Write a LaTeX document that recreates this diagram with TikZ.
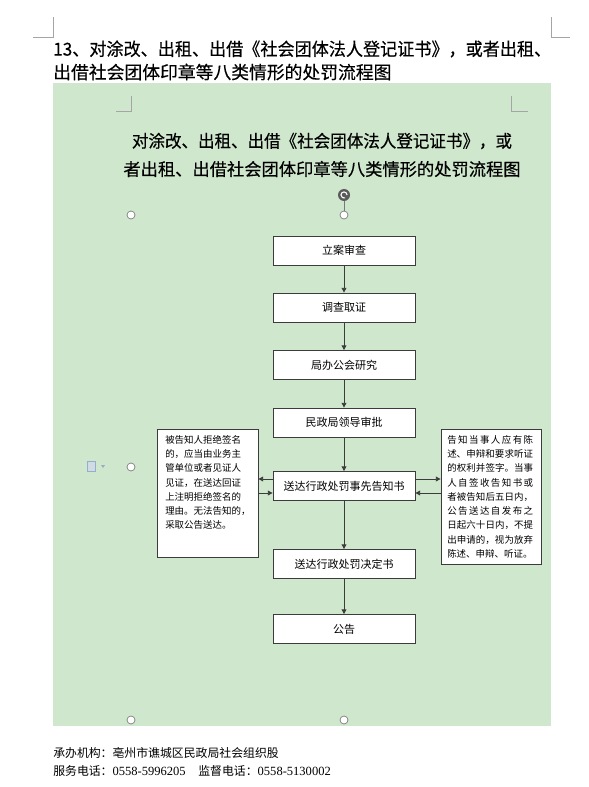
\documentclass[tikz,border=0pt]{standalone}
\usepackage{fontspec}
\setmainfont{Noto Sans CJK SC}
\newfontfamily\headfont{Noto Sans CJK SC}[FakeBold=0.4]
\newfontfamily\numfont{Liberation Serif}
\usetikzlibrary{arrows.meta, positioning}
\XeTeXlinebreaklocale "zh"
\XeTeXlinebreakskip=0pt plus 2pt

\definecolor{pagegreen}{RGB}{207,231,204}
\definecolor{boxline}{RGB}{60,60,60}
\definecolor{markgray}{RGB}{165,165,165}
\definecolor{handlegray}{RGB}{120,120,120}
\definecolor{rotgray}{RGB}{90,90,90}
\definecolor{iconblue}{RGB}{150,175,200}

\tikzset{
  stepbox/.style={draw=boxline, fill=white, line width=0.6pt, minimum width=106.5pt,
    minimum height=21.75pt, inner sep=0pt, font=\fontsize{8.25}{10}\selectfont},
  notebox/.style={draw=boxline, fill=white, line width=0.6pt, inner sep=0pt},
  notetext/.style={inner sep=0pt, anchor=north west, font=\fontsize{7.1}{10.7}\selectfont},
  flow/.style={draw=boxline, line width=0.7pt, -{Triangle[length=3.6pt,width=3.6pt]}},
  handle/.style={circle, draw=handlegray, fill=white, line width=0.5pt, minimum size=6pt, inner sep=0pt},
  cropmark/.style={draw=markgray, line width=0.5pt},
  plain/.style={inner sep=0pt, anchor=west},
  headline/.style={plain, font=\headfont\fontsize{13.35}{16}\selectfont},
  titleline/.style={inner sep=0pt, font=\headfont\fontsize{12.95}{15}\selectfont}
}

\begin{document}
\begin{tikzpicture}[x=0.75pt, y=-0.75pt]
  \useasboundingbox (0,0) rectangle (588,787);
  \fill[white] (0,0) rectangle (588,787);
  \fill[pagegreen] (53,83) rectangle (551,726);

  % page corners
  \draw[cropmark] (33,37) -- (53,37) -- (53,17);
  \draw[cropmark] (551,17) -- (551,37) -- (570,37);
  \draw[cropmark] (116,111.7) -- (131.7,111.7) -- (131.7,96);
  \draw[cropmark] (511.7,96) -- (511.7,111.7) -- (527.7,111.7);

  % heading
  \node[headline] (head1) at (53,49) {\scalebox{0.961}[1]{13、对涂改、出租、出借《社会团体法人登记证书》，或者出租、}};
  \node[headline] (head2) at (53,72) {出借社会团体印章等八类情形的处罚流程图};

  \node[titleline] (title1) at (322,141) {\scalebox{0.957}[1]{对涂改、出租、出借《社会团体法人登记证书》，或}};
  \node[titleline] (title2) at (322,169) {者出租、出借社会团体印章等八类情形的处罚流程图};

  % selection handles
  \node[circle, fill=rotgray, minimum size=9pt, inner sep=0pt] (rot) at (344,195) {};
  \draw[white, line width=0.8pt] (rot.center) ++(2.3pt,0) arc[start angle=0, end angle=290, radius=2.3pt];
  \node[handle] (htop) at (344,215) {};
  \draw[handlegray, line width=0.5pt] (rot) -- (htop);
  \node[handle] (hnw) at (131,215) {};
  \node[handle] (hw) at (131,467) {};
  \node[handle] (hsw) at (131,720) {};
  \node[handle] (hs) at (344,720) {};
  \node[draw=iconblue, fill=iconblue!45, minimum width=6pt, minimum height=7.5pt, inner sep=0pt] (icon) at (91,466) {};
  \fill[iconblue] (101,465) -- (105,465) -- (103,468) -- cycle;

  % main steps
  \node[stepbox] (filing) at (344,250.5) {立案审查};
  \node[stepbox] (inquiry) at (344,307.5) {调查取证};
  \node[stepbox] (meeting) at (344,365) {局办公会研究};
  \node[stepbox] (approve) at (344,422.5) {民政局领导审批};
  \node[stepbox] (notice) at (344,486) {送达行政处罚事先告知书};
  \node[stepbox] (decision) at (344,564) {送达行政处罚决定书};
  \node[stepbox] (announce) at (344,629) {公告};

  \foreach \a/\b in {filing/inquiry, inquiry/meeting, meeting/approve, approve/notice,
                     notice/decision, decision/announce}
    \draw[flow] (\a) -- (\b);

  % side notes
  \node[notebox, minimum width=75.75pt, minimum height=96pt] (refuse) at (207.5,493) {};
  \node[notetext, align=left] (refusetext) at (165,435) {被告知人拒绝签名\\的，应当由业务主\\管单位或者见证人\\见证，在送达回证\\上注明拒绝签名的\\理由。无法告知的，\\采取公告送达。};

  \node[notebox, minimum width=75pt, minimum height=101.25pt] (rights) at (491,496.5) {};
  \node[notetext, text width=64.4pt, align=justify] (rightstext) at (447,435) {\tolerance=9999
    告知当事人应有陈\linebreak 述、申辩和要求听证\linebreak 的权利并签字。当事\linebreak
    人自签收告知书或\linebreak 者被告知后五日内，\linebreak 公告送达自发布之\linebreak
    日起六十日内，不提\linebreak 出申请的，视为放弃\linebreak 陈述、申辩、听证。};

  \draw[flow] ([yshift=5.25pt]notice.west) -- ([yshift=5.25pt]notice.west -| refuse.east);
  \draw[flow] ([yshift=-5.25pt]notice.west -| refuse.east) -- ([yshift=-5.25pt]notice.west);
  \draw[flow] ([yshift=5.25pt]notice.east) -- ([yshift=5.25pt]notice.east -| rights.west);
  \draw[flow] ([yshift=-5.25pt]notice.east -| rights.west) -- ([yshift=-5.25pt]notice.east);

  % footer
  \node[plain, font=\fontsize{8.9}{10}\selectfont] (office) at (53,753) {承办机构：亳州市谯城区民政局社会组织股};
  \node[plain, font=\fontsize{8.9}{10}\selectfont] (phones) at (53,771) {服务电话：{\numfont\fontsize{9.4}{10}\selectfont 0558-5996205}\hspace{9.5pt}监督电话：{\numfont\fontsize{9.4}{10}\selectfont 0558-5130002}};
\end{tikzpicture}
\end{document}
